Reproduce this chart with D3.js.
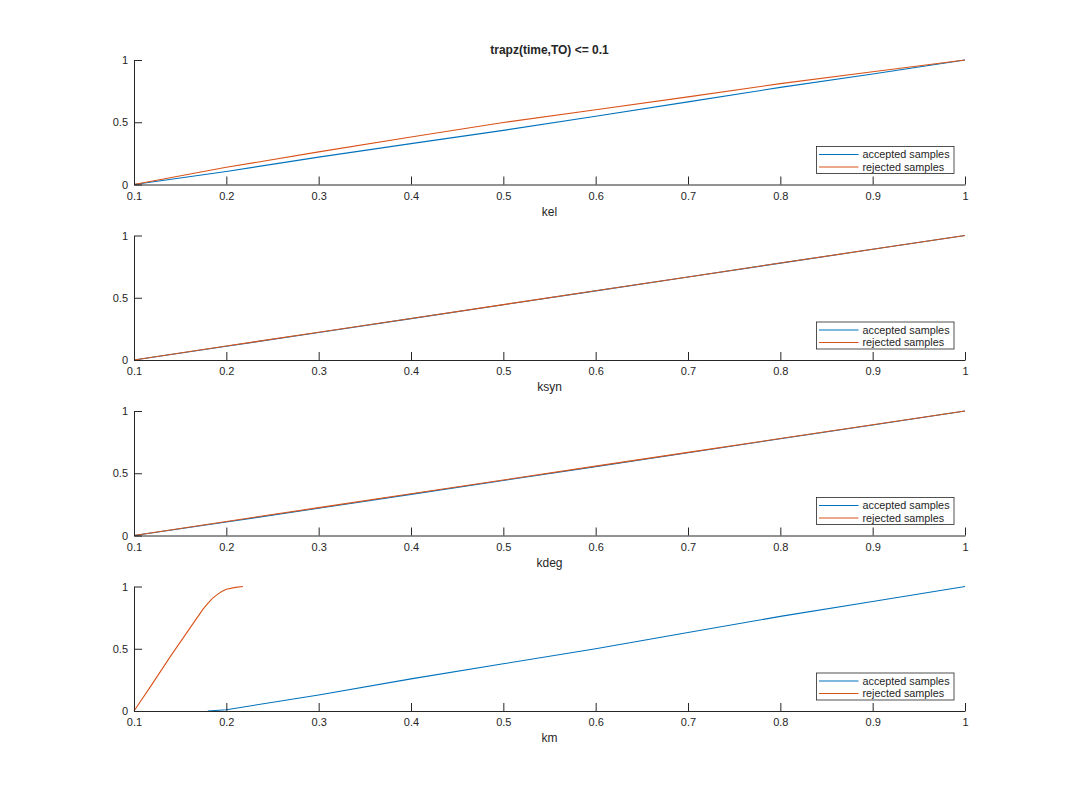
<!DOCTYPE html>
<html><head><meta charset="utf-8">
<script src="https://cdn.jsdelivr.net/npm/d3@7"></script>
<style>body{margin:0;background:#fff}svg{display:block}text{font-family:"Liberation Sans",Arial,sans-serif;fill:#262626}</style>
</head><body><div id="chart"></div>
<script>
const titleText = "trapz(time,TO) <= 0.1";
const paramNames = ["kel", "ksyn", "kdeg", "km"];
const xTicks = [0.1, 0.2, 0.3, 0.4, 0.5, 0.6, 0.7, 0.8, 0.9, 1];
const yTicks = [0, 0.5, 1];
const seriesNames = ["accepted samples", "rejected samples"];

// ECDF knots: [x, F(x)]
const kelAccepted = [[0.1,0],[0.2,0.105],[0.3,0.22],[0.4,0.328],[0.5,0.435],[0.6,0.548],[0.7,0.664],[0.8,0.78],[0.9,0.887],[1,1]];
const kelRejected = [[0.1,0],[0.2,0.138],[0.3,0.262],[0.4,0.382],[0.5,0.498],[0.6,0.601],[0.7,0.704],[0.8,0.81],[0.9,0.905],[1,1]];
const ksynAccepted = [[0.1,0],[0.2,0.11],[0.3,0.221],[0.4,0.332],[0.5,0.444],[0.6,0.555],[0.7,0.667],[0.8,0.778],[0.9,0.889],[1,1]];
const ksynRejected = [[0.1,0],[0.2,0.112],[0.3,0.223],[0.4,0.333],[0.5,0.445],[0.6,0.556],[0.7,0.667],[0.8,0.779],[0.9,0.889],[1,1]];
const kdegAccepted = [[0.1,0],[0.2,0.108],[0.3,0.219],[0.4,0.33],[0.5,0.442],[0.6,0.553],[0.7,0.665],[0.8,0.777],[0.9,0.888],[1,1]];
const kdegRejected = [[0.1,0],[0.2,0.113],[0.3,0.224],[0.4,0.335],[0.5,0.446],[0.6,0.557],[0.7,0.668],[0.8,0.779],[0.9,0.89],[1,1]];
const kmAccepted = [[0.18,0],[0.2,0.01],[0.3,0.129],[0.4,0.258],[0.5,0.379],[0.6,0.5],[0.7,0.63],[0.8,0.76],[0.9,0.88],[1,1]];
const kmRejected = [[0.1,0],[0.12,0.22],[0.14,0.445],[0.16,0.66],[0.175,0.82],[0.18,0.865],[0.185,0.905],[0.19,0.935],[0.195,0.96],[0.2,0.978],[0.21,0.993],[0.218,1]];

const accepted = [kelAccepted, ksynAccepted, kdegAccepted, kmAccepted];
const rejected = [kelRejected, ksynRejected, kdegRejected, kmRejected];
const colors = ["#0072BD", "#D95319"];

const W = 1067, H = 800;
const svg = d3.select("#chart").append("svg").attr("width", W).attr("height", H);
const left = 134, right = 965;
const tops = [60, 235.5, 411, 586.5];
const ah = 124.5;

svg.append("text").attr("x", (left + right) / 2).attr("y", 54)
  .attr("text-anchor", "middle").attr("font-size", "12px").attr("font-weight", "bold")
  .text(titleText);

const x = d3.scaleLinear().domain([0.1, 1]).range([left, right]);

paramNames.forEach((name, i) => {
  const top = tops[i], bottom = top + ah;
  const y = d3.scaleLinear().domain([0, 1]).range([bottom, top]);
  const g = svg.append("g");
  const line = d3.line().x(d => x(d[0])).y(d => y(d[1]));
  [accepted[i], rejected[i]].forEach((data, k) => {
    g.append("path").datum(data).attr("d", line)
      .attr("fill", "none").attr("stroke", colors[k]).attr("stroke-width", 1.1);
  });
  const xa = g.append("g").attr("transform", `translate(0,${bottom})`)
    .call(d3.axisBottom(x).tickValues(xTicks).tickFormat(d3.format("")).tickSizeInner(-8).tickSizeOuter(0).tickPadding(13));
  const ya = g.append("g").attr("transform", `translate(${left},0)`)
    .call(d3.axisLeft(y).tickValues(yTicks).tickFormat(d3.format("")).tickSizeInner(-8).tickSizeOuter(0).tickPadding(13));
  [xa, ya].forEach(a => {
    a.select(".domain").attr("stroke", "#262626");
    a.selectAll(".tick line").attr("stroke", "#262626");
    a.selectAll(".tick text").attr("font-size", "11px").attr("fill", "#262626").attr("font-family", '"Liberation Sans",Arial,sans-serif');
  });
  xa.selectAll(".tick text").attr("dy", "0.2em");
  ya.selectAll(".tick text").attr("dx", "7px");
  g.append("text").attr("x", (left + right) / 2).attr("y", bottom + 31)
    .attr("text-anchor", "middle").attr("font-size", "12px").text(name);
  const lx = 816.5, ly = bottom - 38;
  const lg = g.append("g");
  lg.append("rect").attr("x", lx).attr("y", ly).attr("width", 137.5).attr("height", 27)
    .attr("fill", "#fff").attr("stroke", "#262626").attr("stroke-width", 0.8);
  seriesNames.forEach((s, k) => {
    const yy = ly + 8 + k * 12.5;
    lg.append("line").attr("x1", lx + 2.5).attr("x2", lx + 42).attr("y1", yy).attr("y2", yy)
      .attr("stroke", colors[k]).attr("stroke-width", 1.1);
    lg.append("text").attr("x", lx + 46).attr("y", yy).attr("dy", "0.35em")
      .attr("font-size", "10.8px").text(s);
  });
});
</script></body></html>
